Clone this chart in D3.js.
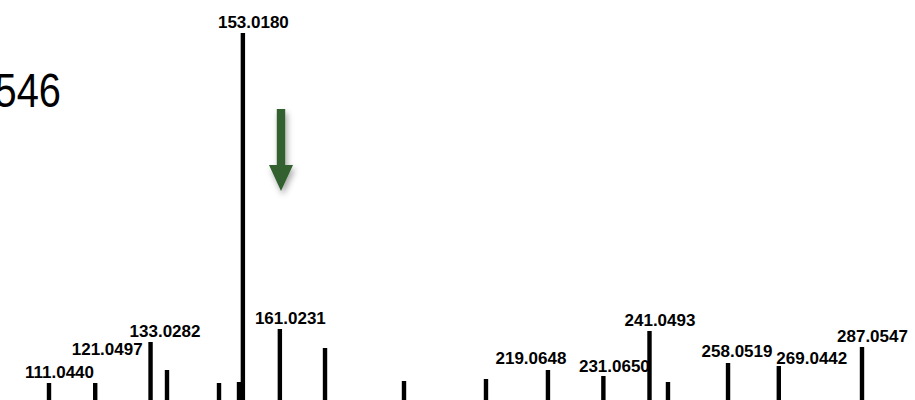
<!DOCTYPE html>
<html>
<head>
<meta charset="utf-8">
<script src="https://cdn.jsdelivr.net/npm/d3@7/dist/d3.min.js"></script>
<style>
  html, body { margin: 0; padding: 0; background: #ffffff; }
  svg { display: block; }
</style>
</head>
<body>
<div id="chart"></div>
<script>
// MS/MS fragment peaks: m/z and relative abundance (%)
const peakMz = [
  111.0440, 121.0497, 133.0282, 136.59, 147.85, 152.18, 153.0180, 161.0231,
  170.80, 187.90, 205.65, 219.0648, 231.0650, 241.0493, 245.05, 258.0519,
  269.0442, 287.0547
];
const peakIntensity = [
  12.5, 12.5, 22.75, 15.75, 12.5, 12.75, 100, 26,
  21.25, 13, 13.5, 15.75, 14.25, 25.5, 12.75, 17.5,
  16.75, 21.5
];
// Peaks that carry an m/z annotation
const labelledMz = [
  111.0440, 121.0497, 133.0282, 153.0180, 161.0231, 219.0648,
  231.0650, 241.0493, 258.0519, 269.0442, 287.0547
];
const labelText = [
  "111.0440", "121.0497", "133.0282", "153.0180", "161.0231", "219.0648",
  "231.0650", "241.0493", "258.0519", "269.0442", "287.0547"
];
// Precursor mass fragment shown at the left edge
const precursorTail = "546";

// ---- layout ----
const W = 915, H = 400;
const barW = 4.4;
const labelFont = "bold 17px 'Liberation Sans', Arial, sans-serif";
const defaultNudge = { dx: 10.5, dy: -5 };
const nudge = {
  "121.0497": { dx: 12, dy: -28 },
  "133.0282": { dx: 14.5, dy: -5 },
  "219.0648": { dx: -17, dy: -6 },
  "231.0650": { dx: 11, dy: -4 },
  "269.0442": { dx: 33, dy: -2 },
  "258.0519": { dx: 9, dy: -6 }
};

const x = d3.scaleLinear().domain([100.436, 298.53]).range([0, W]);
// baseline sits below the visible window
const y = d3.scaleLinear().domain([0, 100]).range([433, 33]);

const svg = d3.select("#chart").append("svg")
  .attr("width", W).attr("height", H)
  .attr("viewBox", `0 0 ${W} ${H}`);

const defs = svg.append("defs");
const shadow = defs.append("filter").attr("id", "arrowShadow")
  .attr("x", "-100%").attr("y", "-50%").attr("width", "300%").attr("height", "200%");
shadow.append("feDropShadow")
  .attr("dx", 2).attr("dy", 4).attr("stdDeviation", 3)
  .attr("flood-color", "#000").attr("flood-opacity", 0.35);

// precursor m/z text, partly outside the left edge
svg.append("text")
  .attr("transform", "translate(61,107) scale(0.83,1)")
  .attr("text-anchor", "end")
  .style("font", "48px 'Liberation Sans', Arial, sans-serif")
  .attr("fill", "#000")
  .text(precursorTail);

const peaks = peakMz.map((mz, i) => ({ mz, v: peakIntensity[i] }));
const labels = labelledMz.map((mz, i) => {
  const p = peaks.find(d => d.mz === mz);
  return { mz, v: p.v, text: labelText[i] };
});

// annotations first so the sticks sit on top of them
svg.append("g").selectAll("text").data(labels).join("text")
  .attr("x", d => x(d.mz) + (nudge[d.text] || defaultNudge).dx)
  .attr("y", d => y(d.v) + (nudge[d.text] || defaultNudge).dy)
  .attr("text-anchor", "middle")
  .style("font", labelFont)
  .attr("fill", "#000")
  .text(d => d.text);

svg.append("g").selectAll("rect").data(peaks).join("rect")
  .attr("x", d => x(d.mz) - barW / 2)
  .attr("y", d => y(d.v))
  .attr("width", barW)
  .attr("height", d => y(0) - y(d.v))
  .attr("fill", "#000");

// green arrow pointing at the 161 fragment region
const ax = 281, aTop = 109, aHeadY = 165, aTip = 191, shaftHalf = 4.2, headHalf = 12;
svg.append("path")
  .attr("d", `M${ax - shaftHalf},${aTop} L${ax + shaftHalf},${aTop} L${ax + shaftHalf},${aHeadY}
             L${ax + headHalf},${aHeadY} L${ax},${aTip} L${ax - headHalf},${aHeadY}
             L${ax - shaftHalf},${aHeadY} Z`)
  .attr("fill", "#30612f")
  .attr("filter", "url(#arrowShadow)");
</script>
</body>
</html>
